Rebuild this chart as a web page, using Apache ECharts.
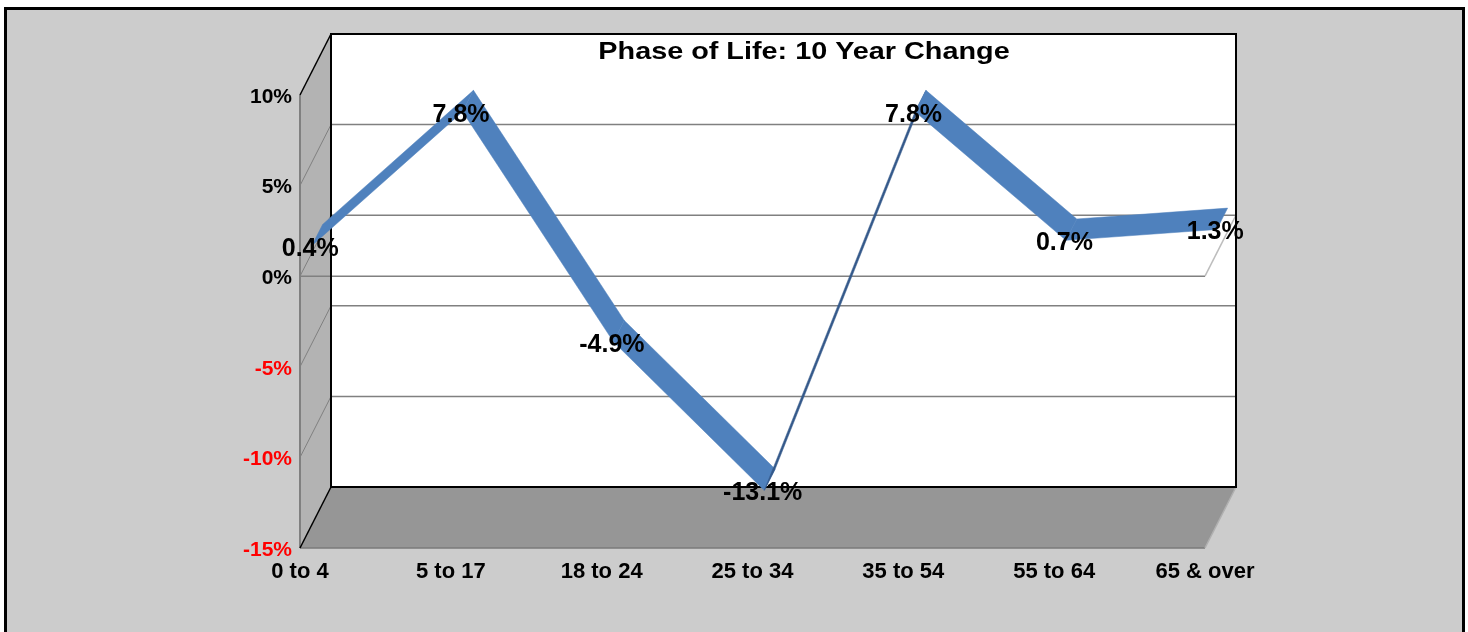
<!DOCTYPE html>
<html><head><meta charset="utf-8">
<script src="https://cdn.jsdelivr.net/npm/echarts@6/dist/echarts.min.js"></script>
<style>html,body{margin:0;padding:0;background:#fff}#c{width:1468px;height:632px}</style>
</head><body><div id="c"></div>
<script>
// ---- data ----
const categories = ['0 to 4', '5 to 17', '18 to 24', '25 to 34', '35 to 54', '55 to 64', '65 & over'];
const changePct = [0.4, 7.8, -4.9, -13.1, 7.8, 0.7, 1.3];
const yTicks = [-15, -10, -5, 0, 5, 10];
const chartTitle = 'Phase of Life: 10 Year Change';

// ---- style / geometry ----
const DEPTH = [31, -61];          // oblique 3D depth vector (front -> back wall)
const RIB0 = 0.38, RIB1 = 0.73;   // ribbon depth span
const LAB = 0.33;                 // label depth
const FONT = '"Liberation Sans", Arial, sans-serif';

function add(p, f) { return [p[0] + DEPTH[0] * f, p[1] + DEPTH[1] * f]; }
function line(a, b, color, w) {
  return { type: 'line', shape: { x1: a[0], y1: a[1], x2: b[0], y2: b[1] }, style: { stroke: color, lineWidth: w } };
}

function renderWalls(params, api) {
  const last = categories.length - 1;
  const yMin = yTicks[0], yMax = yTicks[yTicks.length - 1];
  const fTL = api.coord([0, yMax]), fBL = api.coord([0, yMin]);
  const fBR = api.coord([last, yMin]), fTR = api.coord([last, yMax]);
  const bTL = add(fTL, 1), bBL = add(fBL, 1), bBR = add(fBR, 1), bTR = add(fTR, 1);
  const ch = [];
  ch.push({ type: 'polygon', shape: { points: [bTL, bTR, bBR, bBL] }, style: { fill: '#ffffff' } });
  ch.push({ type: 'polygon', shape: { points: [fTL, bTL, bBL, fBL] }, style: { fill: '#b3b3b3' } });
  ch.push({ type: 'polygon', shape: { points: [fBL, fBR, bBR, bBL] }, style: { fill: '#969696' } });
  yTicks.forEach(function (t) {
    if (t === yMin || t === yMax) return;
    const a = api.coord([0, t]), b = api.coord([last, t]);
    ch.push(line(add(a, 1), add(b, 1), '#808080', 1.5));
    ch.push(line(a, add(a, 1), '#808080', 1));
  });
  const z0 = api.coord([0, 0]), z1 = api.coord([last, 0]);
  ch.push(line(z0, z1, '#808080', 1.5));
  ch.push(line(z1, add(z1, 1), '#bdbdbd', 1.5));
  ch.push(line(fTL, fBL, '#808080', 2));
  ch.push(line(fBL, fBR, '#7a7a7a', 1.5));
  ch.push(line(fBR, bBR, '#b0b0b0', 1.5));
  ch.push(line(fTL, bTL, '#000000', 1.5));
  ch.push(line(fBL, bBL, '#000000', 1.5));
  ch.push({ type: 'polygon', shape: { points: [bTL, bTR, bBR, bBL] }, style: { fill: null, stroke: '#000000', lineWidth: 2 } });
  return { type: 'group', children: ch };
}

function renderRibbon(params, api) {
  const p1 = api.coord([api.value(0), api.value(1)]);
  const p2 = api.coord([api.value(2), api.value(3)]);
  const sx = p2[0] - p1[0], sy = p2[1] - p1[1];
  const cross = sx * DEPTH[1] - sy * DEPTH[0];
  const color = cross < 0 ? '#4f81bd' : '#34598a';
  return {
    type: 'polygon',
    shape: { points: [add(p1, RIB0), add(p2, RIB0), add(p2, RIB1), add(p1, RIB1)] },
    style: { fill: color, stroke: color, lineWidth: 0.5 }
  };
}

function renderLabel(params, api) {
  const v = api.value(1);
  const p = add(api.coord([api.value(0), v]), LAB);
  return {
    type: 'text', x: p[0], y: p[1],
    style: { text: v.toFixed(1) + '%', font: 'bold 25px ' + FONT, fill: '#000', align: 'center', verticalAlign: 'middle' }
  };
}

const segments = changePct.slice(0, -1).map(function (v, i) { return [i, v, i + 1, changePct[i + 1]]; });
const points = changePct.map(function (v, i) { return [i, v]; });

const chart = echarts.init(document.getElementById('c'), null, { renderer: 'canvas' });
chart.setOption({
  animation: false,
  backgroundColor: '#ffffff',
  graphic: [
    { type: 'rect', z: -10, shape: { x: 5.5, y: 8.5, width: 1458, height: 700 }, style: { fill: '#cccccc', stroke: '#000', lineWidth: 3 } },
    { type: 'text', z: 100, x: 804, y: 52, scaleX: 1.2, style: { text: chartTitle, font: 'bold 24px ' + FONT, fill: '#000', align: 'center', verticalAlign: 'middle' } }
  ],
  grid: { left: 300, top: 95, width: 905, height: 453 },
  xAxis: {
    type: 'category', data: categories, boundaryGap: false,
    axisLine: { show: false, onZero: false }, axisTick: { show: false }, splitLine: { show: false },
    axisLabel: { interval: 0, margin: 13, color: '#000', fontFamily: FONT, fontWeight: 'bold', fontSize: 22 }
  },
  yAxis: {
    type: 'value', min: -15, max: 10, interval: 5,
    axisLine: { show: false }, axisTick: { show: false }, splitLine: { show: false },
    axisLabel: {
      margin: 8,
      formatter: function (v) { return (v < 0 ? '{n|' : '{p|') + v + '%}'; },
      rich: {
        n: { color: '#ff0000', fontFamily: FONT, fontWeight: 'bold', fontSize: 21, padding: [4, 0, 0, 0] },
        p: { color: '#000000', fontFamily: FONT, fontWeight: 'bold', fontSize: 21, padding: [4, 0, 0, 0] }
      }
    }
  },
  series: [
    { type: 'custom', name: 'walls', z: 1, silent: true, data: [[0, 0]], renderItem: renderWalls },
    { type: 'custom', name: 'ribbon', z: 5, data: segments, renderItem: renderRibbon },
    { type: 'custom', name: 'labels', z: 10, data: points, renderItem: renderLabel }
  ]
});
</script></body></html>
